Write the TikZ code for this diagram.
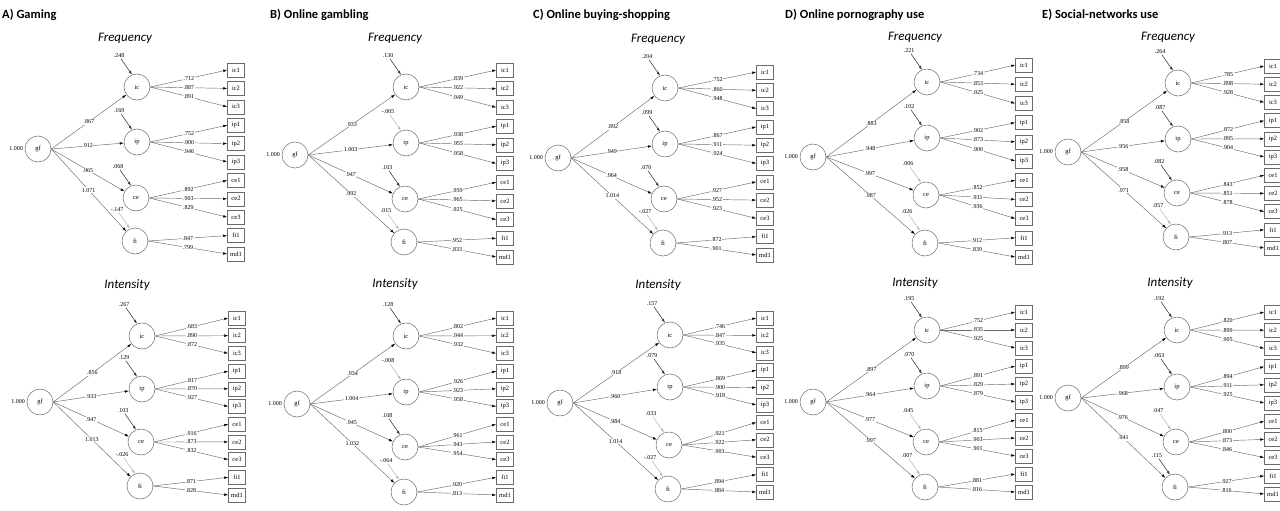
\documentclass[tikz,border=0pt]{standalone}
\usepackage{fontspec}
\setmainfont{Liberation Serif}
\newfontfamily\headfont{Carlito}
\usetikzlibrary{arrows.meta,calc}

\definecolor{linegray}{gray}{0.42}
\definecolor{resdark}{gray}{0.2}
\definecolor{resfaint}{gray}{0.72}

% split helpers: four comma separated values -> named macros
\def\semYsplit#1,#2,#3,#4\relax{\def\semYic{#1}\def\semYip{#2}\def\semYce{#3}\def\semYfi{#4}}
\def\semRsplit#1,#2,#3,#4\relax{\def\semRic{#1}\def\semRip{#2}\def\semRce{#3}\def\semRfi{#4}}
\def\semLsplit#1,#2,#3,#4\relax{\def\semLic{#1}\def\semLip{#2}\def\semLce{#3}\def\semLfi{#4}}

% indicator names and the factor each one loads on
\def\semboxname#1{\ifcase#1 ic1\or ic2\or ic3\or ip1\or ip2\or ip3\or ce1\or ce2\or ce3\or fi1\or md1\fi}
\def\semboxparent#1{\ifcase#1 ic\or ic\or ic\or ip\or ip\or ip\or ce\or ce\or ce\or fi\or fi\fi}

\pgfkeys{/sem/.is family, /sem,
  name/.store in=\semN,
  gf/.store in=\semGF,
  lat/.store in=\semLX,
  box/.store in=\semBX,
  top/.store in=\semTop,
  bot/.store in=\semBot,
  ind/.store in=\semInd,
  ys/.code={\semYsplit#1\relax},
  res/.code={\semRsplit#1\relax},
  load/.code={\semLsplit#1\relax}}

\tikzset{
  numfont/.style={font=\fontsize{6}{7}\selectfont},
  lat/.style={circle, draw=linegray, line width=0.5pt, minimum size=26pt, inner sep=0pt,
              font=\fontsize{6.5}{7}\selectfont},
  ind/.style={rectangle, draw=linegray, line width=0.5pt, minimum width=17pt, minimum height=14pt,
              inner sep=0pt, font=\fontsize{6.5}{7}\selectfont},
  num/.style={numfont, inner sep=0.6pt},
  lab/.style={num, fill=white, pos=0.5},
  link/.style={draw=linegray, line width=0.45pt, -{Latex[length=4pt,width=2.6pt,color=black]}},
  resarrow/.style={line width=0.45pt, -{Latex[length=4pt,width=2.6pt]}},
  paneltitle/.style={font={\headfont\fontsize{12.5}{14}\selectfont\bfseries}, inner sep=0pt, anchor=base west},
  subtitle/.style={font={\headfont\itshape\fontsize{13}{15}\selectfont}, inner sep=0pt}
}

% one second-order factor model
\newcommand\semmodel[1]{%
  \pgfkeys{/sem,#1}%
  \node[lat] (\semN-gf) at (\semGF) {gf};
  \node[num, anchor=east] at ([xshift=-1pt]\semN-gf.west) {1.000};
  \foreach \nm/\yy/\rr/\ll/\dx in {ic/\semYic/\semRic/\semLic/0, ip/\semYip/\semRip/\semLip/0,
                                   ce/\semYce/\semRce/\semLce/-1, fi/\semYfi/\semRfi/\semLfi/-2} {
    \node[lat] (\semN-\nm) at ({\semLX+(\dx)},\yy) {\nm};
    \draw[link] (\semN-gf.east) -- node[lab]{\ll} (\semN-\nm);
    \node[num] (\semN-r\nm) at ($(\semN-\nm)+(-18,-31)$) {\rr};
    \pgfmathtruncatemacro\semfaint{\rr<0.06}
    \ifnum\semfaint=1 \def\semrescol{resfaint}\else\def\semrescol{resdark}\fi
    \draw[resarrow, draw=\semrescol, fill=\semrescol] (\semN-r\nm) -- (\semN-\nm.112);
  }
  \foreach \v [count=\k from 0] in \semInd {
    \edef\bn{\semboxname{\k}}\edef\pn{\semboxparent{\k}}
    \pgfmathsetmacro\by{\semTop+\k*(\semBot-\semTop)/10}
    \node[ind] (\semN-\bn) at (\semBX,\by) {\bn};
    \draw[link] (\semN-\pn.east) -- node[lab]{\v} (\semN-\bn.west);
  }
}

\begin{document}
\begin{tikzpicture}[x=1pt, y=-1pt]
\fill[white] (0,0) rectangle (1280,511);
\useasboundingbox (0,0) rectangle (1280,511);

% panel titles
\node[paneltitle] (tA) at (2,18.5)    {A) Gaming};
\node[paneltitle] (tB) at (270,18.5)  {B) Online gambling};
\node[paneltitle] (tC) at (533,18.5)  {C) Online buying-shopping};
\node[paneltitle] (tD) at (785,18.5)  {D) Online pornography use};
\node[paneltitle] (tE) at (1042,18.5) {E) Social-networks use};

% row headings
\node[subtitle] (fA) at (125,38)  {Frequency};
\node[subtitle] (fB) at (395,38)  {Frequency};
\node[subtitle] (fC) at (658,39)  {Frequency};
\node[subtitle] (fD) at (915,37)  {Frequency};
\node[subtitle] (fE) at (1168,37) {Frequency};
\node[subtitle] (iA) at (127,285)  {Intensity};
\node[subtitle] (iB) at (395,284)  {Intensity};
\node[subtitle] (iC) at (658,285)  {Intensity};
\node[subtitle] (iD) at (915,283)  {Intensity};
\node[subtitle] (iE) at (1170,283) {Intensity};

% A) Gaming
\semmodel{name=AF, gf={38,149}, lat=137, ys={87,142,198,241}, box=236, top=70, bot=254,
  res={.248,.169,.068,-.147}, load={.867,.912,.965,1.071},
  ind={.712,.887,.891,.752,.900,.946,.892,.903,.829,.847,.799}}
\semmodel{name=AI, gf={40,402}, lat=142, ys={336,389,442,486}, box=237, top=318, bot=495,
  res={.267,.129,.103,-.026}, load={.856,.933,.947,1.013},
  ind={.683,.890,.872,.817,.870,.927,.916,.873,.832,.871,.828}}

% B) Online gambling
\semmodel{name=BF, gf={295,155}, lat=406, ys={87,143,199,242}, box=505, top=70, bot=257,
  res={.130,-.005,.103,.015}, load={.933,1.003,.947,.992},
  ind={.839,.922,.949,.938,.955,.958,.959,.965,.925,.952,.833}}
\semmodel{name=BI, gf={297,404}, lat=406, ys={336,392,447,492}, box=505, top=318, bot=495,
  res={.128,-.008,.108,-.064}, load={.934,1.004,.945,1.032},
  ind={.802,.944,.932,.926,.923,.958,.961,.943,.954,.920,.813}}

% C) Online buying-shopping
\semmodel{name=CF, gf={558,158}, lat=665, ys={88,144,199,243}, box=765, top=72, bot=255,
  res={.204,.099,.070,-.027}, load={.892,.949,.964,1.014},
  ind={.752,.860,.948,.867,.911,.924,.927,.952,.923,.872,.901}}
\semmodel{name=CI, gf={560,403}, lat=670, ys={335,387,445,489}, box=765, top=318, bot=492,
  res={.157,.079,.033,-.027}, load={.918,.960,.984,1.014},
  ind={.746,.847,.935,.869,.900,.918,.921,.922,.903,.894,.884}}

% D) Online pornography use
\semmodel{name=DF, gf={813,157}, lat=927, ys={82,138,195,243}, box=1024, top=65, bot=257,
  res={.221,.102,.006,.026}, load={.883,.948,.997,.987},
  ind={.734,.853,.925,.902,.873,.900,.852,.931,.936,.912,.839}}
\semmodel{name=DI, gf={813,402}, lat=927, ys={330,386,442,487}, box=1024, top=312, bot=492,
  res={.195,.070,.045,.007}, load={.897,.964,.977,.997},
  ind={.752,.835,.925,.891,.829,.879,.815,.903,.901,.881,.816}}

% E) Social-networks use
\semmodel{name=EF, gf={1068,152}, lat=1178, ys={83,139,193,237}, box=1273, top=66, bot=248,
  res={.264,.087,.082,.057}, load={.858,.956,.958,.971},
  ind={.785,.898,.928,.872,.895,.904,.843,.851,.878,.913,.807}}
\semmodel{name=EI, gf={1068,398}, lat=1177, ys={330,387,442,487}, box=1273, top=312, bot=494,
  res={.192,.063,.047,.115}, load={.899,.968,.976,.941},
  ind={.820,.899,.905,.894,.911,.925,.800,.873,.846,.927,.816}}
\end{tikzpicture}
\end{document}
